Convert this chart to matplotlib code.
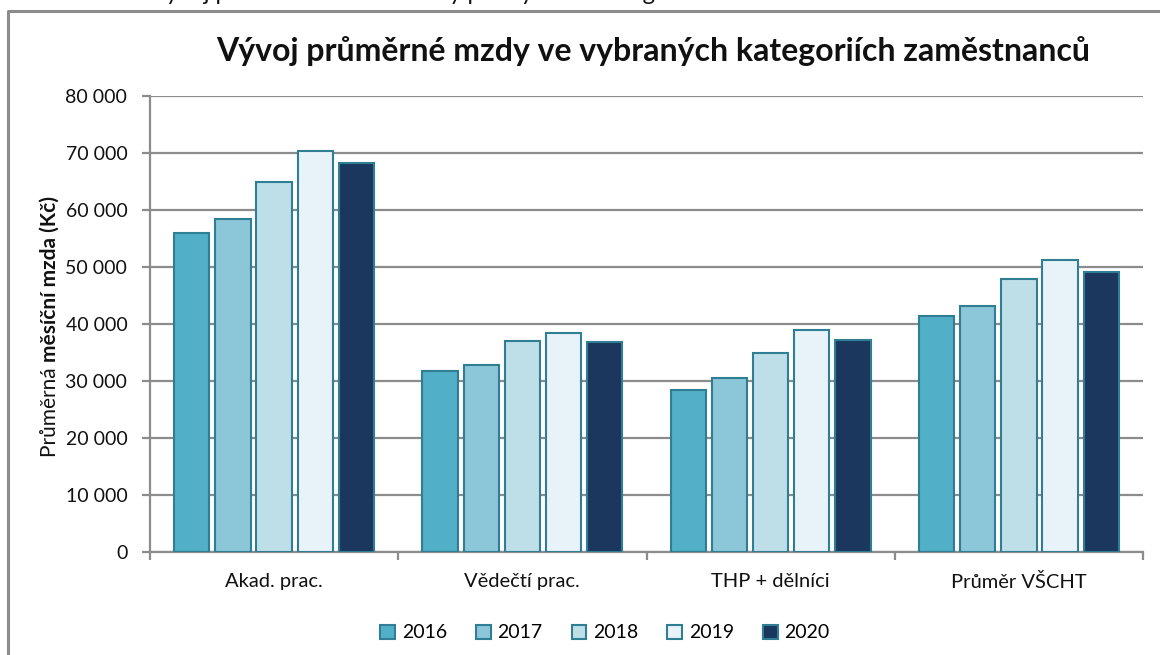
import numpy as np
import matplotlib
matplotlib.use("Agg")
import matplotlib.pyplot as plt
from matplotlib.patches import Patch
from matplotlib.lines import Line2D
from matplotlib.ticker import FuncFormatter, FixedLocator

plt.rcParams['font.family'] = ['Lato', 'DejaVu Sans']

# data
categories = ["Akad. prac.", "Vědečtí prac.", "THP + dělníci", "Průměr VŠCHT"]
years = ["2016", "2017", "2018", "2019", "2020"]
wages_2016 = [55900, 31750, 28480, 41340]
wages_2017 = [58480, 32750, 30530, 43210]
wages_2018 = [64970, 37080, 34850, 47840]
wages_2019 = [70410, 38480, 39000, 51280]
wages_2020 = [68250, 36840, 37250, 49180]
series = [wages_2016, wages_2017, wages_2018, wages_2019, wages_2020]

title = "Vývoj průměrné mzdy ve vybraných kategoriích zaměstnanců"
caption_cut = "Vývoj průměrné měsíční mzdy pro vybrané kategorie zaměstnanců"

colors = ["#52AFC8", "#8BC7D9", "#BEDFE8", "#E8F3F9", "#1B375E"]
edge = "#2F7E93"
grid_col = "#8C8C8C"

W, H = 1160, 655
fig = plt.figure(figsize=(W / 100, H / 100), dpi=100)


def px(x, y):
    return x / W, 1 - y / H


# outer frame (left + top border)
fig.add_artist(Line2D([8 / W, 8 / W, 1.0], [0.0, 1 - 11 / H, 1 - 11 / H],
                      transform=fig.transFigure, color="#8C8C8C", lw=2.2))
# caption of the surrounding document, cut off by the crop (only descenders show)
fig.text(*px(150, -0.5), caption_cut, fontsize=17, va="baseline", ha="left",
         color="#111111")

l, t, r, b = 150, 96, 1143, 552
ax = fig.add_axes([l / W, 1 - b / H, (r - l) / W, (b - t) / H])

x = np.arange(len(categories))
bar_w = 0.142
step = 0.166
for i, vals in enumerate(series):
    ax.bar(x + (i - 2) * step, vals, width=bar_w, color=colors[i],
           edgecolor=edge, linewidth=1.5, zorder=3, label=years[i])

ax.set_xlim(-0.5, len(categories) - 0.5)
ax.set_ylim(0, 80000)
ax.set_yticks(np.arange(0, 80001, 10000))
ax.yaxis.set_major_formatter(FuncFormatter(lambda v, p: f"{int(v):,}".replace(",", " ")))
ax.grid(axis="y", color=grid_col, lw=1.6, zorder=0)
ax.set_axisbelow(True)

ax.set_xticks(x)
ax.set_xticklabels(categories)
ax.xaxis.set_minor_locator(FixedLocator(np.arange(-0.5, len(categories), 1.0)))
ax.tick_params(axis="x", which="major", length=0, pad=15, labelsize=14.5, labelcolor="#111111")
ax.tick_params(axis="x", which="minor", length=6, width=1.6, color=grid_col, direction="out")
ax.tick_params(axis="y", length=5.8, width=1.6, color=grid_col, pad=10.5, labelsize=14,
               labelcolor="#111111")

for s in ["top", "right"]:
    ax.spines[s].set_visible(False)
for s in ["left", "bottom"]:
    ax.spines[s].set_color(grid_col)
    ax.spines[s].set_linewidth(1.6)

fig.text(*px(653, 61), title, fontsize=23, fontweight="bold", ha="center",
         va="baseline", color="#111111")

# y label: normal + bold part
t1 = fig.text(*px(50, 457), "Průměrná ", rotation=90, fontsize=15,
              ha="center", va="bottom", color="#111111")
fig.canvas.draw()
bb = t1.get_window_extent(fig.canvas.get_renderer())
fig.text(50 / W, bb.y1 / H, "měsíční mzda (Kč)", rotation=90, fontsize=15,
         fontweight="bold", ha="center", va="bottom", color="#111111")

handles = [Patch(facecolor=c, edgecolor=edge, lw=1.5) for c in colors]
fig.legend(handles, years, loc="center", bbox_to_anchor=px(605, 633), ncol=5,
           frameon=False, fontsize=14, handlelength=0.75, handleheight=0.75,
           handletextpad=0.35, columnspacing=1.5)

fig.savefig("out.png", dpi=100)
